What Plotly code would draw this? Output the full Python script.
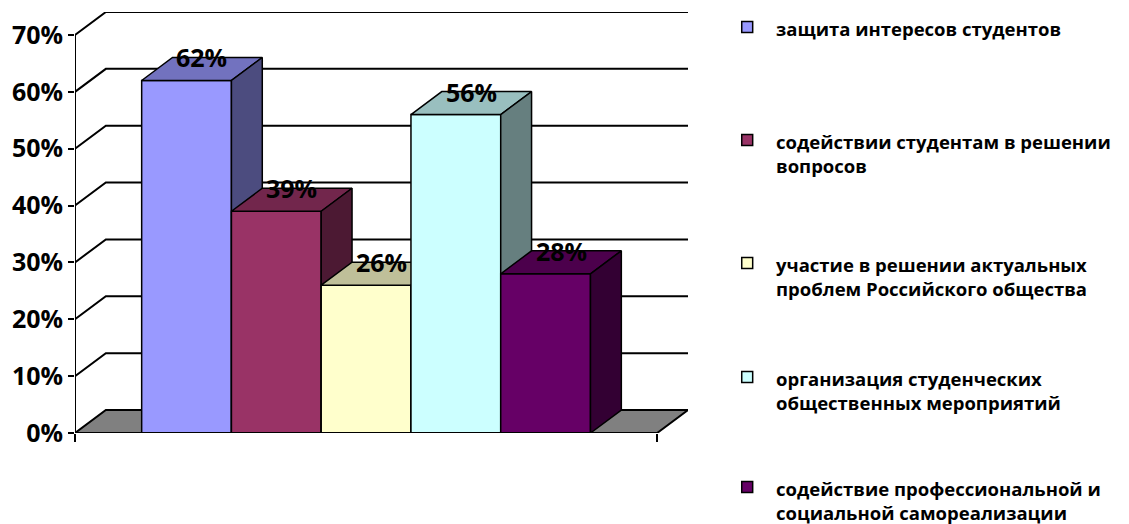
import plotly.graph_objects as go

# ---- data ----
series_names = [
    "защита интересов студентов",
    "содействии студентам в решении<br>вопросов",
    "участие в решении актуальных<br>проблем Российского общества",
    "организация студенческих<br>общественных мероприятий",
    "содействие профессиональной и<br>социальной самореализации",
]
values = [0.62, 0.39, 0.26, 0.56, 0.28]
value_labels = ["62%", "39%", "26%", "56%", "28%"]
y_ticks = [0.0, 0.1, 0.2, 0.3, 0.4, 0.5, 0.6, 0.7]
front_colors = ["#9999FF", "#993366", "#FFFFCC", "#CCFFFF", "#660066"]

# ---- geometry (page pixels) ----
W, H = 1129, 524
BODY = 8  # default page body margin of the written html
PL, PR, PT, PB = 72, 688, 12, 433
DEPTH_X, DEPTH_Y = 31, 23
Y_MAX = max(y_ticks)

px_per_y = (PB - PT - DEPTH_Y) / Y_MAX
px_per_x = (PR - PL - DEPTH_X)
y_top = (PB - PT) / px_per_y
x_right = (PR - PL) / px_per_x
dx = DEPTH_X / px_per_x
dy = DEPTH_Y / px_per_y

gap = 67 / 585
bw = (1 - 2 * gap) / len(values)


def shade(hexcol, f):
    h = hexcol.lstrip("#")
    r, g, b = (int(h[i:i + 2], 16) for i in (0, 2, 4))
    return "#%02X%02X%02X" % (int(r * f), int(g * f), int(b * f))


fig = go.Figure()

# floor
fig.add_trace(go.Scatter(
    x=[0, dx, 1 + dx, 1, 0], y=[0, dy, dy, 0, 0], mode="lines", fill="toself",
    fillcolor="#808080", line=dict(color="black", width=2), hoverinfo="skip", showlegend=False))

# back-wall gridlines + left-wall diagonals
for t in y_ticks:
    if t == 0:
        continue
    fig.add_trace(go.Scatter(
        x=[0, dx, 1 + dx], y=[t, t + dy, t + dy], mode="lines",
        line=dict(color="black", width=2), hoverinfo="skip", showlegend=False))

# bars
edge = dict(color="black", width=1.5)
for i, (v, col, name) in enumerate(zip(values, front_colors, series_names)):
    x0 = gap + i * bw
    x1 = x0 + bw
    fig.add_trace(go.Scatter(
        x=[x0, x1, x1, x0, x0], y=[0, 0, v, v, 0], mode="lines", fill="toself",
        fillcolor=col, line=edge, name=name.replace("<br>", " "), showlegend=False))
    fig.add_trace(go.Scatter(
        x=[x0, x1, x1 + dx, x0 + dx, x0], y=[v, v, v + dy, v + dy, v], mode="lines",
        fill="toself", fillcolor=shade(col, 0.75), line=edge, hoverinfo="skip", showlegend=False))
    fig.add_trace(go.Scatter(
        x=[x1, x1 + dx, x1 + dx, x1, x1], y=[0, dy, v + dy, v, 0], mode="lines",
        fill="toself", fillcolor=shade(col, 0.5), line=edge, hoverinfo="skip", showlegend=False))

# front axis lines
fig.add_trace(go.Scatter(x=[0, 0], y=[0, Y_MAX], mode="lines",
                         line=dict(color="black", width=2), hoverinfo="skip", showlegend=False))
fig.add_trace(go.Scatter(x=[0, 1], y=[0, 0], mode="lines",
                         line=dict(color="black", width=2), hoverinfo="skip", showlegend=False))

LABEL_FONT = dict(family="Open Sans", size=25, color="black", weight="bold")

# data labels
for i, (v, lab) in enumerate(zip(values, value_labels)):
    xc = gap + i * bw + bw / 2 + dx / 2
    fig.add_annotation(x=xc, y=v + dy, text=lab, showarrow=False, xanchor="center",
                       yanchor="middle", font=LABEL_FONT)

# manual legend
legend_first_line_px = [27, 140, 263, 377, 487]
LEG_SIZE = 18.5


def to_paper_x(px):
    return (px - PL) / (PR - PL)


def to_paper_y(py):
    return (PB - py) / (PB - PT)


for name, col, cy in zip(series_names, front_colors, legend_first_line_px):
    fig.add_shape(type="rect", xref="paper", yref="paper",
                  x0=to_paper_x(742), x1=to_paper_x(753),
                  y0=to_paper_y(cy + 5.5), y1=to_paper_y(cy - 5.5),
                  fillcolor=col, line=dict(color="black", width=1.5))
    fig.add_annotation(xref="paper", yref="paper", x=to_paper_x(775),
                       y=to_paper_y(cy - 0.65 * LEG_SIZE),
                       text=name, showarrow=False, xanchor="left", yanchor="top",
                       align="left", borderpad=0,
                       font=dict(family="Open Sans", size=LEG_SIZE, color="black",
                                 weight="bold"))

fig.update_layout(
    width=W - BODY, height=H - BODY,
    margin=dict(l=PL - BODY, r=W - PR, t=PT - BODY, b=H - PB, pad=0),
    plot_bgcolor="white", paper_bgcolor="white",
    showlegend=False,
    xaxis=dict(range=[0, x_right], showgrid=False, zeroline=False, showline=False,
               tickvals=[0, 1], ticktext=["", ""], ticks="outside", ticklen=8,
               tickwidth=2, tickcolor="black", fixedrange=True),
    yaxis=dict(range=[0, y_top], showgrid=False, zeroline=False, showline=False,
               tickvals=y_ticks, tickformat=".0%", ticks="outside", ticklen=6,
               tickwidth=2, tickcolor="black", tickfont=LABEL_FONT, fixedrange=True),
)

fig.write_html("out.html")
